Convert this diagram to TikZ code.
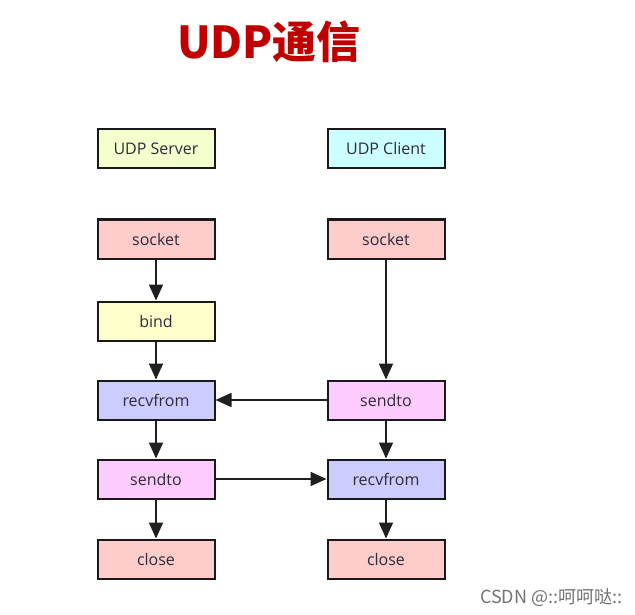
\documentclass[tikz,border=0pt]{standalone}
\usepackage{fontspec}
\setmainfont{Open Sans}
\newfontfamily\cjk{Noto Sans CJK SC}
\usetikzlibrary{arrows.meta}
\definecolor{titlered}{HTML}{C00000}
\definecolor{srvfill}{HTML}{F3FFCC}
\definecolor{clifill}{HTML}{CCFFFF}
\definecolor{sockfill}{HTML}{FFCCCC}
\definecolor{bindfill}{HTML}{FFFFCC}
\definecolor{recvfill}{HTML}{CCCCFF}
\definecolor{sendfill}{HTML}{FFCCFF}
\definecolor{txt}{HTML}{2E2A3A}
\tikzset{
  box/.style={draw=black!90, line width=2pt, minimum width=117pt, minimum height=39pt,
    inner sep=0pt, font=\fontsize{16}{18}\selectfont, text=txt},
  flow/.style={draw=black!88, line width=1.8pt, -{Triangle[length=16pt,width=14pt]}},
}
\begin{document}
\begin{tikzpicture}[x=1pt,y=-1pt]
\useasboundingbox (0,0) rectangle (635,615);
\fill[white] (0,0) rectangle (635,615);
\node[font=\cjk\bfseries\fontsize{44}{46}\selectfont, text=titlered] (title) at (269,42) {UDP通信};
\node[box, fill=srvfill] (srv) at (156,149) {UDP Server};
\node[box, fill=clifill] (cli) at (386,149) {UDP Client};
\node[box, fill=sockfill] (ssock) at (156,239) {socket};
\node[box, fill=sockfill] (csock) at (386,239) {socket};
\node[box, fill=bindfill] (bind) at (156,321) {bind};
\node[box, fill=recvfill] (srecv) at (156,400) {recvfrom};
\node[box, fill=sendfill] (csend) at (386,400) {sendto};
\node[box, fill=sendfill] (ssend) at (156,479) {sendto};
\node[box, fill=recvfill] (crecv) at (386,479) {recvfrom};
\node[box, fill=sockfill] (sclose) at (156,559) {close};
\node[box, fill=sockfill] (cclose) at (386,559) {close};
\draw[flow] (ssock) -- (bind);
\draw[flow] (bind) -- (srecv);
\draw[flow] (srecv) -- (ssend);
\draw[flow] (ssend) -- (sclose);
\draw[flow] (csock) -- (csend);
\draw[flow] (csend) -- (crecv);
\draw[flow] (crecv) -- (cclose);
\draw[flow] (csend) -- (srecv);
\draw[flow] (ssend) -- (crecv);
\node[font=\cjk\fontsize{18}{20}\selectfont, text=black!55, anchor=east] (wm) at (626,597) {CSDN @::呵呵哒::};
\end{tikzpicture}
\end{document}
